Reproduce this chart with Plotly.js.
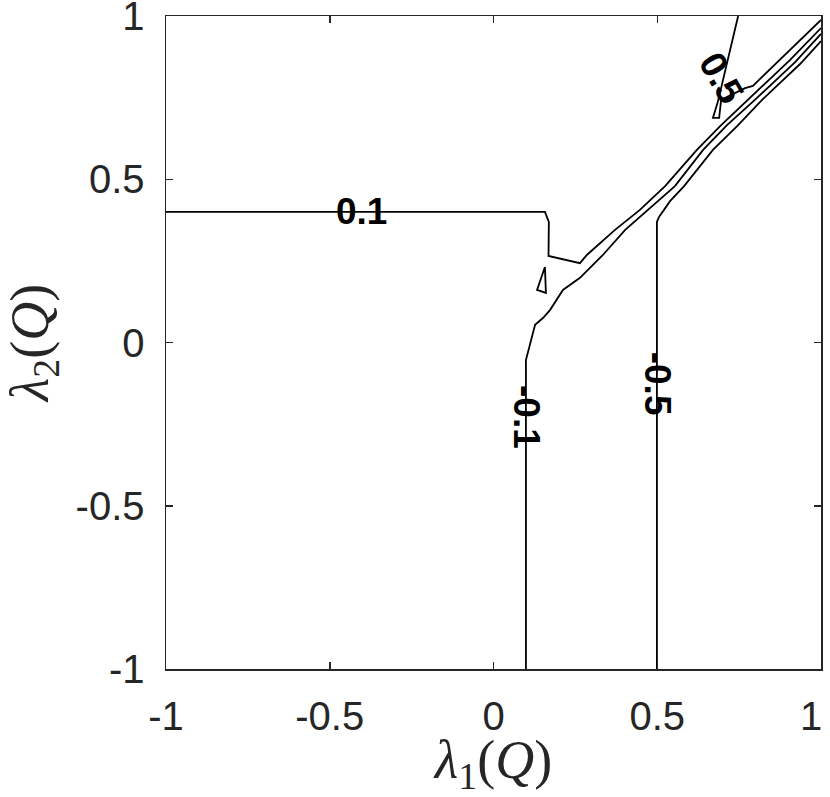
<!DOCTYPE html>
<html>
<head>
<meta charset="utf-8">
<script src="https://cdn.plot.ly/plotly-3.0.1.min.js"></script>
<style>
  body { margin: 0; background: #fff; }
</style>
</head>
<body>
<div id="chart" style="width:830px;height:797px"></div>
<script>
// contour lines (lambda1, lambda2)
const levelP01X = [-1, 0.157, 0.169, 0.168, 0.264, 0.285, 0.371, 0.447, 0.524, 0.621, 0.692, 0.777, 0.905, 1.0];
const levelP01Y = [0.400, 0.400, 0.369, 0.265, 0.243, 0.268, 0.345, 0.406, 0.479, 0.590, 0.663, 0.743, 0.865, 0.963];

const levelM01X = [0.099, 0.099, 0.127, 0.151, 0.173, 0.212, 0.264, 0.334, 0.402, 0.478, 0.554, 0.640, 0.713, 0.798, 0.921, 1.0];
const levelM01Y = [-1.0, -0.054, 0.054, 0.075, 0.100, 0.161, 0.198, 0.268, 0.345, 0.412, 0.479, 0.590, 0.666, 0.743, 0.859, 0.945];

const levelM05X = [0.499, 0.499, 0.505, 0.539, 0.582, 0.670, 0.744, 0.820, 0.936, 1.0];
const levelM05Y = [-1.0, 0.369, 0.384, 0.433, 0.479, 0.590, 0.663, 0.743, 0.853, 0.923];

const levelP05X = [0.747, 0.698, 0.685, 0.670, 0.689, 0.695, 0.768, 0.792, 1.0];
const levelP05Y = [1.0, 0.798, 0.737, 0.688, 0.688, 0.743, 0.779, 0.786, 0.988];

// small closed piece near (0.15, 0.2)
const islandX = [0.157, 0.133, 0.160, 0.157];
const islandY = [0.231, 0.161, 0.152, 0.231];

// inline labels
const labelText = ["0.1", "-0.1", "-0.5", "0.5"];
const labelX = [-0.402, 0.099, 0.5, 0.695];
const labelY = [0.400, -0.228, -0.127, 0.812];
const labelAngle = [0, 90, 90, 60];

const tickVals = [-1, -0.5, 0, 0.5, 1];
const yTickText = ["-1", "-0.5", "0", "0.5", "1"];
// last x label nudged left so it stays inside the page, like the original
const xTickText = ["-1", "-0.5", "0", "0.5", "1\u2002"];

function contourTrace(xs, ys) {
  return {
    x: xs,
    y: ys,
    type: "scatter",
    mode: "lines",
    line: { color: "#000", width: 1.8 },
    hoverinfo: "skip",
    showlegend: false,
    cliponaxis: false
  };
}

const data = [
  contourTrace(levelP01X, levelP01Y),
  contourTrace(levelM01X, levelM01Y),
  contourTrace(levelM05X, levelM05Y),
  contourTrace(levelP05X, levelP05Y),
  contourTrace(islandX, islandY)
];

const annotations = labelText.map((t, i) => ({
  x: labelX[i],
  y: labelY[i],
  xref: "x",
  yref: "y",
  text: "<b>" + t + "</b>",
  showarrow: false,
  textangle: labelAngle[i],
  font: { family: "Liberation Sans, Arial, sans-serif", size: 37, color: "#000" }
}));

const axisCommon = {
  range: [-1, 1],
  tickvals: tickVals,
  ticks: "inside",
  ticklen: 7,
  tickwidth: 1.5,
  tickcolor: "#262626",
  ticklabeloverflow: "allow",
  showline: true,
  linecolor: "#262626",
  linewidth: 1.5,
  mirror: "allticks",
  showgrid: false,
  zeroline: false,
  tickfont: { family: "Liberation Sans, Arial, sans-serif", size: 40, color: "#262626" }
};

const titleFont = { family: "Liberation Serif, Times New Roman, serif", size: 54, color: "#262626" };

const layout = {
  width: 830,
  height: 797,
  margin: { l: 166, r: 9, t: 16, b: 128 },
  paper_bgcolor: "#fff",
  plot_bgcolor: "#fff",
  xaxis: Object.assign({}, axisCommon, {
    ticktext: xTickText,
    ticklabelstandoff: 11,
    title: {
      text: "<i>λ</i><sub>1</sub>(<i>Q</i>)",
      font: titleFont,
      standoff: 7
    }
  }),
  yaxis: Object.assign({}, axisCommon, {
    ticktext: yTickText,
    ticklabelstandoff: 12,
    title: {
      text: "<i>λ</i><sub>2</sub>(<i>Q</i>)",
      font: titleFont,
      standoff: 14
    }
  }),
  annotations: annotations
};

Plotly.newPlot("chart", data, layout, { staticPlot: true, displayModeBar: false });
</script>
</body>
</html>
